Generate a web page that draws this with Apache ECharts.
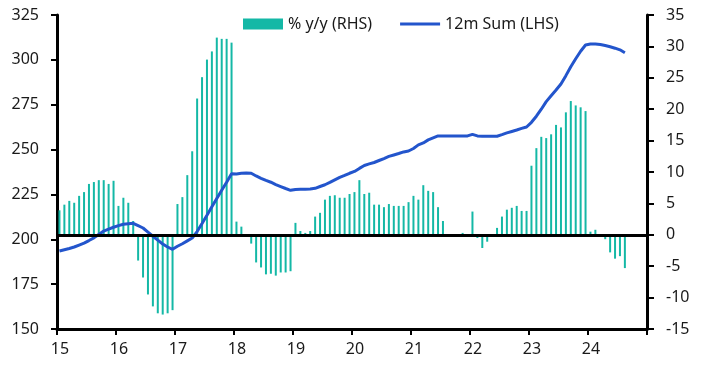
<!DOCTYPE html>
<html>
<head>
<meta charset="utf-8">
<script src="https://cdn.jsdelivr.net/npm/echarts@6/dist/echarts.min.js"></script>
<style>
html,body{margin:0;padding:0;background:#fff;}
#chart{width:708px;height:387px;}
</style>
</head>
<body>
<div id="chart"></div>
<script>
// Monthly data, Jan 2015 .. Aug 2024
const startYear = 2015;
const yoy = [ // % y/y (RHS)
  3.9, 4.8, 5.4, 5.1, 6.2, 6.8, 8.1, 8.4, 8.7, 8.7, 8.1, 8.6,
  4.6, 5.9, 5.1, 2.2, -4.1, -6.8, -9.5, -11.4, -12.5, -12.7, -12.5, -12.0,
  4.9, 6.0, 9.5, 13.3, 21.7, 25.1, 27.9, 29.2, 31.4, 31.2, 31.2, 30.6,
  2.1, 1.3, -0.2, -1.4, -4.4, -5.2, -6.3, -6.2, -6.5, -6.0, -6.0, -5.8,
  1.9, 0.6, 0.3, 0.6, 2.9, 3.5, 5.6, 6.2, 6.3, 5.9, 5.9, 6.5,
  6.8, 8.7, 6.5, 6.7, 4.8, 4.8, 4.4, 4.9, 4.6, 4.6, 4.6, 5.2,
  6.2, 5.6, 7.9, 7.0, 6.8, 4.4, 2.2, 0.0, -0.2, 0.0, 0.3, 0.0,
  3.7, -0.5, -2.1, -1.1, 0.0, 1.1, 2.9, 4.0, 4.3, 4.6, 3.8, 3.8,
  11.0, 13.8, 15.6, 15.4, 16.0, 17.5, 17.1, 19.5, 21.3, 20.6, 20.3, 19.7,
  0.5, 0.8, -0.2, -0.7, -2.8, -3.8, -3.4, -5.3
];
const sum12m = [ // 12m Sum (LHS)
  193.5, 194.2, 194.9, 195.7, 196.8, 197.9, 199.3, 200.8, 202.7, 204.6, 205.7, 206.7,
  207.6, 208.4, 208.7, 208.9, 207.6, 206.3, 204.0, 201.7, 199.5, 197.4, 195.7, 194.4,
  196.1, 197.5, 199.1, 200.7, 204.3, 208.8, 213.4, 218.1, 222.7, 227.3, 231.8, 236.5,
  236.4, 236.8, 237.0, 236.8, 235.3, 234.0, 232.8, 231.8, 230.5, 229.4, 228.3, 227.3,
  227.8, 227.9, 227.9, 228.0, 228.4, 229.4, 230.4, 231.7, 233.1, 234.5, 235.6, 236.8,
  237.8, 239.5, 241.1, 242.0, 242.8, 243.9, 245.0, 246.2, 247.0, 247.8, 248.7, 249.2,
  250.6, 252.6, 253.7, 255.4, 256.5, 257.6, 257.6, 257.6, 257.6, 257.6, 257.6, 257.6,
  258.5, 257.6, 257.4, 257.4, 257.4, 257.4, 258.3, 259.3, 260.1, 260.9, 261.8, 262.6,
  265.2, 268.6, 272.5, 276.7, 280.0, 283.2, 286.5, 291.2, 296.2, 300.6, 304.8, 308.3,
  308.8, 308.9, 308.6, 308.0, 307.3, 306.5, 305.6, 304.0
];
const xTicks = [15, 16, 17, 18, 19, 20, 21, 22, 23, 24];
const leftTicks = [150, 175, 200, 225, 250, 275, 300, 325];
const rightTicks = [-15, -10, -5, 0, 5, 10, 15, 20, 25, 30, 35];

const monthPos = i => startYear + (i + 0.5) / 12;
const barData = yoy.map((v, i) => [monthPos(i), v]);
const lineData = sum12m.map((v, i) => [monthPos(i), v]);

const font = '"Noto Sans", sans-serif';
const txt = '#1a1a1a';
const chart = echarts.init(document.getElementById('chart'), null, {renderer: 'canvas'});
chart.setOption({
  animation: false,
  backgroundColor: '#ffffff',
  grid: {left: 57, right: 61, top: 15, bottom: 58, containLabel: false},
  legend: {
    left: 238, top: 11,
    itemWidth: 40, itemHeight: 11, itemGap: 28,
    textStyle: {fontFamily: font, fontSize: 16, color: txt},
    data: [
      {name: '% y/y (RHS)', icon: 'rect'},
      {name: '12m Sum (LHS)', icon: 'path://M0,0h40v3h-40z', itemStyle: {color: '#2355cc'}}
    ]
  },
  xAxis: {
    type: 'value', min: 2015, max: 2025, interval: 1,
    axisLine: {onZero: false, lineStyle: {color: '#000', width: 3}},
    axisTick: {length: 6, lineStyle: {color: '#000', width: 2}},
    splitLine: {show: false},
    axisLabel: {
      margin: 12, fontFamily: font, fontSize: 16, color: txt, padding: [0, 0, 0, 6],
      formatter: v => xTicks.includes(v - 2000) ? String(v - 2000) : ''
    }
  },
  yAxis: [
    {
      type: 'value', min: leftTicks[0], max: leftTicks[leftTicks.length - 1], interval: 25,
      position: 'left',
      axisLine: {show: true, lineStyle: {color: '#000', width: 3}},
      axisTick: {show: true, length: 6, lineStyle: {color: '#000', width: 2}},
      splitLine: {show: false},
      axisLabel: {margin: 18, fontFamily: font, fontSize: 16, color: txt}
    },
    {
      type: 'value', min: rightTicks[0], max: rightTicks[rightTicks.length - 1], interval: 5,
      position: 'right',
      axisLine: {show: true, lineStyle: {color: '#000', width: 3}},
      axisTick: {show: true, length: 7, lineStyle: {color: '#000', width: 2}},
      splitLine: {show: false},
      axisLabel: {margin: 19, fontFamily: font, fontSize: 16, color: txt}
    }
  ],
  series: [
    {
      name: '% y/y (RHS)', type: 'bar', yAxisIndex: 1, data: barData,
      barWidth: 2, itemStyle: {color: '#14b8a6'},
      markLine: {
        silent: true, symbol: 'none', label: {show: false},
        lineStyle: {color: '#000', width: 3, type: 'solid'},
        data: [{yAxis: 0}]
      },
      z: 2
    },
    {
      name: '12m Sum (LHS)', type: 'line', yAxisIndex: 0, data: lineData,
      symbol: 'none', showSymbol: false,
      lineStyle: {color: '#2355cc', width: 3},
      itemStyle: {color: '#2355cc'},
      z: 3
    }
  ]
});
</script>
</body>
</html>
